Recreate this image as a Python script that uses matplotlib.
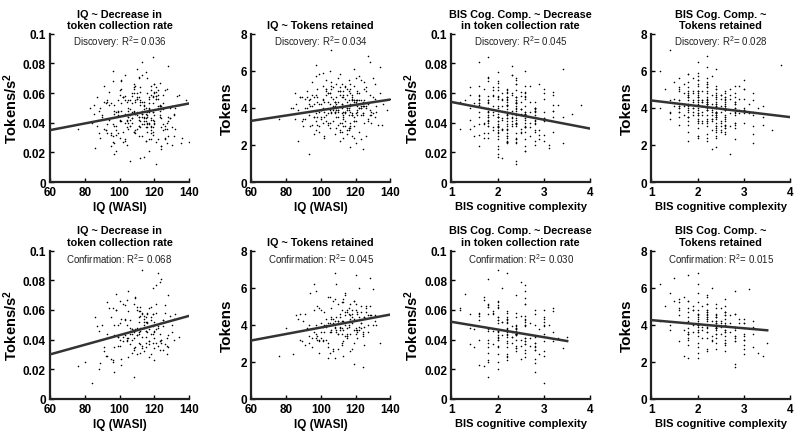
#! /usr/bin/env python

# Scatter plots of IQ / BIS cognitive complexity vs task measures,
# discovery (top row) and confirmation (bottom row) samples

import numpy as np
import matplotlib
matplotlib.use("Agg")
import matplotlib.pyplot as plt

plt.rcParams['font.family'] = ['Liberation Sans', 'DejaVu Sans']
plt.rcParams['mathtext.default'] = 'regular'

# ---- discovery sample (approximate) ----
disc_iq = [112, 98, 121, 105, 117, 93, 108, 126, 101, 115, 88, 119, 110, 132, 96, 104, 123, 113, 107, 99,
           118, 85, 111, 128, 102, 114, 95, 120, 106, 124, 91, 116, 109, 100, 134, 113, 97, 122, 87, 110,
           119, 103, 125, 94, 115, 108, 130, 99, 117, 111, 76, 121, 105, 127, 92, 114, 101, 118, 109, 138,
           96, 112, 123, 104, 89, 116, 107, 129, 98, 120, 110, 93, 125, 103, 117, 114, 86, 122, 106, 131,
           100, 118, 111, 95, 126, 108, 119, 102, 113, 90, 124, 105, 116, 121, 97, 128, 109, 114, 83, 120,
           107, 133, 99, 117, 112, 104, 123, 94, 115, 110, 127, 101, 119, 92, 113, 106, 136, 118, 103, 111,
           122, 97, 114, 108, 125, 88, 116, 102, 120, 110, 131, 95, 117, 105, 124, 112, 99, 119, 107, 129,
           115, 91, 121, 103, 113, 118, 100, 126, 109, 96, 123, 111, 84, 117, 106, 128, 114, 98, 120, 140,
           104, 116, 110, 93, 125, 119, 101, 112, 130, 107, 122, 89, 115, 108, 118, 97, 124, 113, 105, 121,
           109, 121, 95, 114, 103, 127, 111, 118, 99, 106, 124, 113, 92, 117, 108, 130, 101, 119, 115, 87,
           112, 104, 126, 97, 120, 110, 116, 134, 102, 123, 107, 114, 94, 119, 105, 128, 111, 98, 121, 116,
           106, 118, 90, 113, 125, 100, 117, 109, 122, 96, 115, 131, 103, 120, 112, 85, 124, 108, 118, 101,
           114, 127, 98, 110, 119, 105, 123, 93, 116, 111, 135, 102, 120, 108, 117, 126, 97, 113, 122, 106,
           118, 91, 112, 129, 104, 121, 109, 115, 100, 124, 113, 107, 119, 132, 96, 116, 111, 123, 103, 117]

disc_bis = [2.2, 1.8, 2.6, 2.0, 2.4, 1.6, 2.8, 2.2, 3.0, 1.8, 2.4, 2.0, 2.6, 1.4, 2.2, 2.8, 2.0, 2.4, 1.6, 3.2,
            2.0, 2.6, 1.8, 2.2, 2.4, 3.0, 1.6, 2.2, 2.8, 2.0, 1.2, 2.4, 2.6, 1.8, 2.2, 3.4, 2.0, 2.4, 1.8, 2.6,
            2.2, 2.8, 1.6, 2.4, 2.0, 3.2, 2.2, 1.8, 2.6, 2.4, 1.4, 2.0, 2.8, 2.2, 1.6, 3.0, 2.4, 2.0, 2.6, 1.8,
            2.4, 2.2, 1.8, 2.8, 2.0, 2.6, 1.6, 2.2, 3.0, 2.4, 1.9, 2.7, 2.1, 2.3, 1.7, 2.5, 3.1, 2.0, 2.4, 1.5,
            2.2, 2.6, 2.0, 1.8, 2.4, 3.2, 2.2, 2.8, 1.6, 2.0, 2.4, 1.2, 2.6, 2.2, 3.6, 1.8, 2.4, 2.0, 2.8, 2.2,
            2.6, 1.8, 2.2, 2.4, 1.4, 2.0, 2.8, 2.2, 3.0, 1.6, 2.4, 2.0, 2.6, 2.2, 1.8, 1.4, 2.4, 3.2, 2.0, 2.6,
            2.0, 2.4, 1.6, 2.2, 2.8, 1.8, 2.6, 2.4, 2.0, 3.4, 2.2, 1.6, 2.4, 2.8, 2.0, 2.2, 1.8, 2.6, 3.0, 2.4,
            1.8, 2.2, 2.6, 2.0, 2.4, 1.6, 3.0, 2.2, 2.8, 2.0, 2.4, 1.8, 2.6, 2.2, 2.4, 2.0, 1.6, 2.8, 3.2, 2.2,
            2.4, 2.0, 2.6, 1.8, 2.2, 1.8, 2.8, 2.4, 2.0, 2.6, 1.4, 2.2, 3.0, 2.4, 2.0, 3.8, 2.6, 2.2, 1.8, 2.4,
            2.3, 1.9, 2.5, 2.1, 2.7, 1.7, 2.3, 2.9, 2.1, 1.5, 2.5, 2.3, 1.9, 2.7, 2.1, 3.1, 2.4, 1.8, 2.6, 2.2,
            2.0, 2.5, 1.7, 2.3, 2.9, 2.1, 2.6, 1.9, 2.4, 3.3, 2.2, 1.6, 2.5, 2.0, 2.8, 2.3, 1.8, 2.6, 2.1, 3.0,
            2.4, 1.9, 2.2, 2.7, 1.5, 2.3, 2.0, 2.9, 2.5, 1.8, 2.2, 2.6, 1.3, 2.4, 2.1, 3.2, 2.3, 1.9, 2.7, 2.0,
            2.2, 2.5, 1.8, 2.3, 2.9, 2.0, 2.6, 1.7, 2.4, 2.1, 3.4, 2.2, 1.9, 2.5, 2.8, 2.0, 2.3, 1.6, 2.6, 2.4,
            2.1, 2.7, 1.9, 2.4, 2.2, 3.0, 1.7, 2.5, 2.3, 2.0, 2.8, 1.8, 2.4, 2.1, 2.6, 3.2, 2.2, 1.9, 2.5, 2.3]

# decrease in token collection rate, in 1e-3 tokens/s^2
disc_rate = [52, 38, 61, 44, 29, 55, 47, 36, 63, 41, 33, 58, 45, 50, 27, 42, 67, 39, 53, 48,
             35, 46, 71, 31, 57, 43, 24, 60, 49, 37, 54, 40, 65, 30, 52, 44, 19, 62, 38, 56,
             47, 28, 59, 42, 74, 34, 51, 45, 21, 57, 36, 64, 48, 26, 53, 41, 69, 33, 46, 55,
             39, 61, 44, 25, 50, 37, 58, 43, 32, 66, 47, 54, 35, 72, 40, 49, 23, 56, 45, 31,
             62, 42, 38, 53, 29, 48, 57, 34, 81, 44, 51, 36, 60, 27, 46, 41, 55, 17, 50, 39,
             43, 58, 33, 49, 64, 37, 45, 52, 28, 56, 40, 68, 47, 35, 54, 42, 30, 59, 46, 38,
             51, 26, 44, 63, 39, 48, 34, 57, 41, 76, 45, 32, 53, 40, 22, 55, 47, 37, 60, 43,
             50, 36, 58, 29, 46, 65, 42, 38, 54, 31, 48, 70, 40, 56, 14, 44, 52, 35, 61, 27,
             45, 39, 57, 33, 49, 84, 41, 54, 37, 47, 59, 30, 43, 66, 38, 52, 24, 46, 55, 12,
             46, 58, 33, 51, 40, 63, 44, 29, 55, 38, 49, 72, 35, 47, 60, 25, 53, 42, 37, 57,
             41, 54, 30, 48, 66, 36, 45, 59, 27, 52, 43, 39, 61, 34, 50, 78, 44, 21, 56, 47,
             38, 62, 45, 31, 53, 41, 57, 35, 49, 68, 28, 46, 55, 40, 16, 52, 43, 64, 37, 48,
             54, 36, 47, 60, 32, 44, 51, 39, 70, 42, 26, 57, 45, 34, 50, 62, 38, 47, 29, 55,
             43, 65, 37, 50, 41, 56, 33, 46, 59, 24, 48, 40, 53, 36, 75, 44, 31, 51, 58, 39]

disc_tokens = [4.2, 3.5, 4.8, 3.9, 2.9, 4.4, 3.7, 5.1, 3.2, 4.0, 4.6, 3.3, 4.9, 3.8, 2.6, 4.3, 5.5, 3.6, 4.1, 3.0,
               4.7, 3.4, 5.8, 3.9, 2.4, 4.5, 3.1, 4.2, 5.2, 3.7, 4.0, 2.8, 4.6, 3.5, 6.2, 4.1, 3.3, 4.8, 2.2, 3.9,
               4.4, 3.6, 5.0, 3.0, 4.3, 3.8, 5.6, 2.7, 4.1, 4.7, 3.4, 4.9, 3.2, 6.8, 4.0, 3.7, 4.5, 2.5, 4.2, 3.9,
               3.5, 5.3, 4.1, 3.1, 4.6, 2.9, 4.0, 3.6, 5.0, 4.3, 3.8, 1.5, 4.4, 3.3, 4.8, 3.0, 4.2, 5.7, 3.7, 4.5,
               3.9, 4.6, 3.2, 5.4, 4.0, 2.6, 4.3, 3.8, 4.9, 3.4, 4.1, 6.0, 3.6, 4.4, 2.8, 4.7, 3.5, 5.2, 4.0, 3.3,
               4.5, 3.1, 4.2, 5.0, 3.7, 4.8, 2.3, 4.1, 3.9, 5.6, 3.4, 4.4, 3.0, 4.6, 3.8, 7.1, 4.2, 3.6, 4.9, 2.7,
               4.0, 3.7, 5.1, 4.3, 3.2, 4.6, 3.9, 2.5, 4.4, 3.5, 5.3, 4.1, 1.9, 4.8, 3.6, 4.2, 5.8, 3.3, 4.0, 3.8,
               4.7, 3.4, 4.1, 5.5, 3.0, 4.4, 3.9, 4.9, 2.9, 4.2, 3.6, 5.1, 4.0, 3.2, 4.6, 6.5, 3.8, 4.3, 2.1, 4.5,
               3.7, 4.9, 3.1, 4.2, 5.4, 3.5, 4.0, 2.7, 4.6, 3.9, 4.4, 3.3, 5.0, 4.1, 3.6, 6.3, 4.3, 2.4, 4.8, 3.8,
               4.0, 3.6, 4.7, 3.3, 5.0, 4.2, 2.8, 4.5, 3.8, 5.4, 4.1, 3.4, 4.9, 3.0, 4.3, 3.7, 5.2, 4.4, 2.6, 3.9,
               4.6, 3.2, 4.1, 5.7, 3.7, 4.3, 2.9, 4.8, 3.5, 4.0, 5.1, 3.8, 4.5, 2.4, 4.2, 3.6, 4.9, 3.1, 4.4, 5.5,
               3.8, 4.4, 3.0, 4.7, 4.1, 3.4, 5.3, 3.9, 2.7, 4.6, 4.0, 3.5, 5.0, 4.2, 3.2, 4.8, 1.8, 4.3, 3.7, 5.9,
               4.1, 3.3, 4.6, 3.9, 5.2, 2.9, 4.4, 3.6, 4.0, 4.9, 3.1, 4.3, 5.6, 3.8, 4.2, 2.5, 4.7, 3.5, 4.0, 5.0,
               3.6, 4.5, 4.0, 3.2, 4.8, 3.9, 5.3, 2.8, 4.2, 3.7, 4.6, 3.3, 6.1, 4.1, 3.5, 4.4, 2.2, 4.0, 4.7, 3.8]

# ---- confirmation sample ----
conf_iq = [110, 97, 118, 104, 125, 92, 113, 107, 121, 100, 116, 88, 123, 111, 99, 128, 106, 114, 95, 119,
           103, 126, 112, 90, 117, 108, 130, 101, 115, 122, 96, 109, 124, 105, 113, 80, 120, 111, 98, 127,
           114, 102, 119, 93, 110, 125, 106, 117, 87, 121, 108, 132, 100, 115, 112, 97, 123, 104, 118, 109,
           76, 116, 111, 126, 99, 113, 120, 105, 91, 122, 110, 103, 128, 114, 96, 119, 107, 124, 112, 84,
           117, 101, 121, 108, 94, 115, 129, 110, 104, 123, 98, 112, 118, 106, 131, 89, 116, 109, 120, 102,
           113, 125, 97, 119, 107, 111, 122, 100, 115, 86, 124, 110, 105, 117, 134, 103, 120, 108, 114, 93,
           108, 121, 99, 115, 127, 104, 112, 118, 95, 123, 110, 106, 130, 101, 116, 113, 91, 119, 107, 125,
           111, 98, 120, 114, 103, 128, 109, 117, 122, 96, 112, 105, 126, 115, 100, 119, 88, 113, 124, 107,
           116, 102, 121, 110, 93, 118, 106, 127, 112, 99, 123, 114, 108, 131, 104, 117, 111, 120, 97, 115]

conf_bis = [2.4, 1.8, 2.0, 2.6, 2.2, 3.0, 1.6, 2.4, 2.8, 2.0, 2.2, 1.8, 2.6, 3.2, 2.0, 2.4, 1.4, 2.2, 2.8, 2.6,
            2.0, 2.2, 1.8, 2.4, 3.0, 2.6, 2.0, 1.6, 2.2, 2.8, 1.2, 2.4, 2.0, 2.6, 3.4, 1.8, 2.2, 2.4, 3.0, 2.0,
            2.6, 2.2, 1.8, 2.0, 2.4, 2.8, 1.6, 2.2, 3.0, 2.6, 2.0, 1.4, 2.4, 2.2, 1.8, 2.8, 2.0, 3.2, 2.4, 2.6,
            1.7, 2.2, 2.4, 1.9, 2.8, 2.0, 2.6, 2.2, 3.0, 1.8, 2.4, 2.0, 1.5, 2.6, 2.2, 2.8, 2.4, 1.8, 2.0, 3.0,
            2.2, 2.6, 1.8, 2.4, 2.0, 2.8, 1.6, 2.2, 3.0, 2.4, 1.3, 2.6, 2.0, 2.2, 1.8, 2.8, 2.4, 2.0, 3.2, 2.6,
            2.0, 2.4, 2.2, 1.8, 2.6, 3.0, 2.2, 1.6, 2.4, 2.0, 2.8, 1.2, 2.6, 2.2, 3.5, 2.0, 2.4, 1.8, 2.6, 3.0,
            2.3, 1.9, 2.5, 2.1, 2.7, 1.7, 2.4, 2.9, 2.0, 2.6, 1.8, 2.2, 3.1, 2.5, 1.9, 2.3, 2.8, 2.1, 1.5, 2.6,
            2.2, 2.8, 1.9, 2.4, 3.0, 2.1, 1.7, 2.6, 2.3, 2.0, 2.5, 3.3, 1.8, 2.2, 2.7, 2.4, 2.0, 1.6, 2.5, 2.9,
            2.1, 2.6, 1.8, 2.4, 2.2, 3.0, 2.0, 2.7, 1.9, 2.3, 2.5, 1.4, 2.8, 2.2, 2.0, 3.2, 2.4, 1.8, 2.6, 2.3]

conf_rate = [48, 35, 62, 41, 53, 29, 57, 44, 38, 66, 51, 46, 33, 59, 42, 70, 37, 54, 27, 49,
             43, 58, 31, 50, 39, 64, 45, 23, 55, 36, 61, 47, 40, 73, 34, 25, 52, 44, 60, 30,
             56, 42, 38, 65, 47, 33, 53, 28, 49, 77, 41, 57, 36, 46, 62, 18, 51, 39, 44, 68,
             22, 45, 55, 37, 50, 87, 41, 59, 32, 48, 43, 63, 35, 52, 26, 57, 40, 81, 46, 11,
             39, 54, 47, 34, 61, 42, 56, 30, 50, 44, 71, 37, 53, 48, 40, 24, 58, 35, 45, 64,
             36, 49, 43, 57, 31, 52, 85, 40, 46, 55, 38, 60, 28, 47, 42, 53, 34, 15, 50, 44,
             45, 58, 36, 52, 41, 67, 48, 30, 55, 39, 62, 44, 50, 27, 57, 42, 35, 75, 47, 53,
             38, 60, 46, 32, 54, 43, 69, 37, 49, 25, 56, 41, 63, 35, 51, 44, 20, 58, 40, 47,
             52, 39, 64, 43, 29, 55, 46, 36, 59, 42, 79, 48, 33, 54, 40, 61, 45, 26, 50, 38]

conf_tokens = [4.1, 3.5, 4.8, 3.0, 4.4, 3.8, 5.2, 2.7, 4.6, 3.6, 4.2, 3.2, 5.0, 3.9, 2.5, 4.5, 3.7, 5.6, 3.3, 4.3,
               3.9, 4.7, 2.9, 4.2, 3.5, 5.4, 4.0, 3.1, 4.8, 3.7, 6.2, 4.4, 3.4, 4.1, 2.3, 3.8, 5.1, 4.6, 3.2, 4.0,
               4.5, 3.6, 5.3, 3.0, 4.2, 3.9, 4.9, 2.6, 4.3, 3.7, 6.8, 4.0, 3.3, 4.7, 3.5, 5.8, 4.1, 2.8, 4.4, 3.6,
               2.3, 4.6, 3.8, 5.0, 3.1, 4.2, 3.7, 5.5, 2.9, 4.4, 3.5, 4.0, 6.5, 3.4, 4.8, 1.9, 4.1, 3.6, 5.2, 2.4,
               4.3, 3.2, 4.7, 3.9, 5.7, 3.4, 4.5, 2.7, 4.1, 3.8, 5.0, 3.0, 4.6, 3.6, 4.2, 3.1, 4.9, 6.2, 3.5, 4.0,
               3.7, 4.4, 3.3, 5.3, 2.6, 4.1, 3.9, 4.8, 3.5, 4.5, 1.7, 4.2, 3.6, 5.1, 3.0, 4.3, 3.8, 2.2, 4.7, 3.4,
               4.2, 3.6, 4.9, 3.3, 4.5, 5.5, 3.8, 4.1, 2.8, 4.7, 3.5, 4.3, 5.9, 3.9, 4.0, 3.1, 4.6, 3.7, 5.3, 2.9,
               4.4, 3.4, 4.8, 4.0, 3.2, 5.0, 3.7, 4.5, 6.0, 3.6, 4.2, 2.5, 4.9, 3.8, 4.1, 3.0, 4.6, 5.4, 3.5, 4.3,
               3.9, 4.7, 3.3, 5.1, 4.0, 2.7, 4.4, 3.6, 4.8, 3.2, 4.1, 5.7, 3.8, 4.5, 2.2, 4.2, 3.7, 6.7, 4.0, 3.4]

# regression line end points
fit_iq_x = [60, 140]
disc_fit_bis_x = [1, 4]
conf_fit_bis_x = [1, 3.5]
fit_y = [[0.035, 0.053], [3.3, 4.45], [0.054, 0.036], [4.4, 3.5],
         [0.030, 0.056], [3.15, 4.55], [0.052, 0.039], [4.25, 3.7]]

r2 = ["0.036", "0.034", "0.045", "0.028", "0.068", "0.045", "0.030", "0.015"]

titles = ["IQ ~ Decrease in\ntoken collection rate", "IQ ~ Tokens retained",
          "BIS Cog. Comp. ~ Decrease\nin token collection rate", "BIS Cog. Comp. ~\nTokens retained"]

rate_d = np.asarray(disc_rate) / 1000.0
rate_c = np.asarray(conf_rate) / 1000.0

panels = [
    (disc_iq, rate_d, fit_iq_x, "Discovery"),
    (disc_iq, disc_tokens, fit_iq_x, "Discovery"),
    (disc_bis, rate_d, disc_fit_bis_x, "Discovery"),
    (disc_bis, disc_tokens, disc_fit_bis_x, "Discovery"),
    (conf_iq, rate_c, fit_iq_x, "Confirmation"),
    (conf_iq, conf_tokens, fit_iq_x, "Confirmation"),
    (conf_bis, rate_c, conf_fit_bis_x, "Confirmation"),
    (conf_bis, conf_tokens, conf_fit_bis_x, "Confirmation"),
]

fig = plt.figure(figsize=(8.0, 4.39), dpi=100)

lefts = [0.0625, 0.314, 0.564, 0.814]
bottoms = [0.583, 0.089]
w, h = 0.174, 0.338

for i, (x, y, fx, sample) in enumerate(panels):
    row, col = i // 4, i % 4
    ax = fig.add_axes([lefts[col], bottoms[row], w, h])
    ax.scatter(x, y, s=1.3, c='k', linewidths=0, zorder=2)
    ax.plot(fx, fit_y[i], color='#333333', lw=1.8, zorder=3)

    is_iq = col < 2
    is_rate = col % 2 == 0
    if is_iq:
        ax.set_xlim(60, 140)
        ax.set_xticks([60, 80, 100, 120, 140])
        ax.set_xlabel("IQ (WASI)", fontsize=8.5, fontweight='bold', labelpad=2)
    else:
        ax.set_xlim(1, 4)
        ax.set_xticks([1, 2, 3, 4])
        ax.set_xlabel("BIS cognitive complexity", fontsize=8, fontweight='bold', labelpad=2)
    if is_rate:
        ax.set_ylim(0, 0.1)
        ax.set_yticks([0, 0.02, 0.04, 0.06, 0.08, 0.1])
        ax.set_yticklabels(["0", "0.02", "0.04", "0.06", "0.08", "0.1"])
        ax.set_ylabel("Tokens/s$^2$", fontsize=10.5, fontweight='bold', labelpad=2)
    else:
        ax.set_ylim(0, 8)
        ax.set_yticks([0, 2, 4, 6, 8])
        ax.set_ylabel("Tokens", fontsize=11, fontweight='bold', labelpad=5)

    ax.set_title(titles[col], fontsize=7.8, fontweight='bold', pad=4, linespacing=1.2)
    ax.text(0.5, 0.95, sample + ": R$^2$= " + r2[i], transform=ax.transAxes,
            ha='center', va='center', fontsize=7, color='#222222')

    for s in ['top', 'right']:
        ax.spines[s].set_visible(False)
    for s in ['left', 'bottom']:
        ax.spines[s].set_linewidth(1.6)
        ax.spines[s].set_color('#222222')
    ax.tick_params(direction='in', length=3, width=1, labelsize=8.5, pad=3)
    for lab in ax.get_xticklabels() + ax.get_yticklabels():
        lab.set_fontweight('bold')

fig.savefig("out.png", dpi=100)
